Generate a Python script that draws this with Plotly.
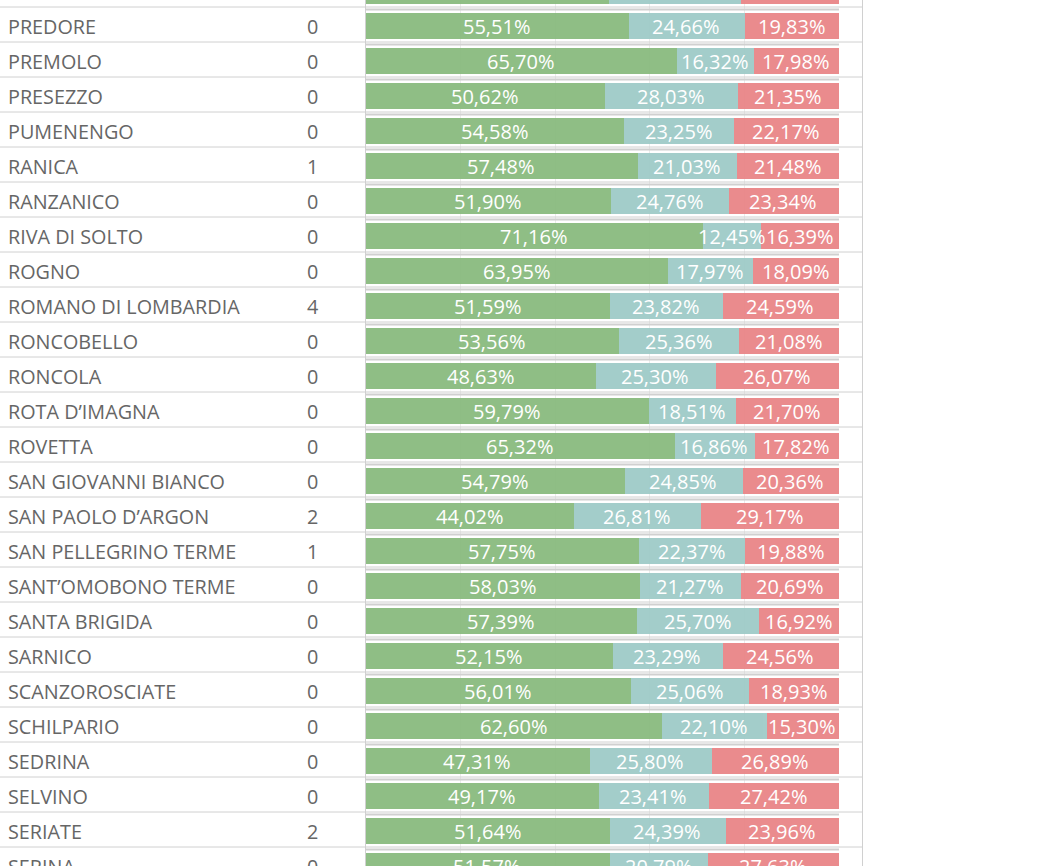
import plotly.graph_objects as go

comuni = ["PRADALUNGA", "PREDORE", "PREMOLO", "PRESEZZO", "PUMENENGO", "RANICA", "RANZANICO",
          "RIVA DI SOLTO", "ROGNO", "ROMANO DI LOMBARDIA", "RONCOBELLO", "RONCOLA",
          "ROTA D’IMAGNA", "ROVETTA", "SAN GIOVANNI BIANCO", "SAN PAOLO D’ARGON",
          "SAN PELLEGRINO TERME", "SANT’OMOBONO TERME", "SANTA BRIGIDA", "SARNICO",
          "SCANZOROSCIATE", "SCHILPARIO", "SEDRINA", "SELVINO", "SERIATE", "SERINA"]
conteggio = [0, 0, 0, 0, 0, 1, 0, 0, 0, 4, 0, 0, 0, 0, 0, 2, 1, 0, 0, 0, 0, 0, 0, 0, 2, 0]
verde = [51.40, 55.51, 65.70, 50.62, 54.58, 57.48, 51.90, 71.16, 63.95, 51.59, 53.56, 48.63,
         59.79, 65.32, 54.79, 44.02, 57.75, 58.03, 57.39, 52.15, 56.01, 62.60, 47.31, 49.17,
         51.64, 51.57]
azzurro = [27.90, 24.66, 16.32, 28.03, 23.25, 21.03, 24.76, 12.45, 17.97, 23.82, 25.36, 25.30,
           18.51, 16.86, 24.85, 26.81, 22.37, 21.27, 25.70, 23.29, 25.06, 22.10, 25.80, 23.41,
           24.39, 20.79]
rosso = [20.70, 19.83, 17.98, 21.35, 22.17, 21.48, 23.34, 16.39, 18.09, 24.59, 21.08, 26.07,
         21.70, 17.82, 20.36, 29.17, 19.88, 20.69, 16.92, 24.56, 18.93, 15.30, 26.89, 27.42,
         23.96, 27.63]

W, H = 1053, 866
ROW = 35.0
C_GREEN = "#8abb7f"
C_TEAL = "#9fcbc8"
C_RED = "#e98587"
C_LINE = "#d0d0d0"
FONT = "Open Sans"

n = len(comuni)
rows = list(range(n))

fig = go.Figure()
series = [(verde, C_GREEN), (azzurro, C_TEAL), (rosso, C_RED)]
bases = [0.0] * n
annotations = []
for vals, col in series:
    fig.add_trace(go.Bar(
        y=rows, x=vals, base=bases[:], orientation="h",
        marker=dict(color=col, line=dict(width=0)), opacity=0.95,
        width=0.751, offset=-0.337, hoverinfo="skip", showlegend=False,
    ))
    for i in range(n):
        annotations.append(dict(
            x=bases[i] + vals[i] / 2, y=i, xref="x", yref="y",
            text=f"{vals[i]:.2f}%".replace(".", ","), showarrow=False,
            font=dict(family=FONT, size=20, color="white"),
            xanchor="center", yanchor="middle", yshift=-1.5, xshift=-1,
        ))
    bases = [bases[i] + vals[i] for i in range(n)]

for i in range(n):
    annotations.append(dict(
        x=6 / W, y=i, xref="paper", yref="y", text=comuni[i], showarrow=False,
        font=dict(family=FONT, size=19.8, color="#666666"),
        xanchor="left", yanchor="middle", yshift=-1.5,
    ))
    annotations.append(dict(
        x=312 / W, y=i, xref="paper", yref="y", text=str(conteggio[i]), showarrow=False,
        font=dict(family=FONT, size=19.8, color="#666666"),
        xanchor="center", yanchor="middle", yshift=-1.5,
    ))

shapes = []
for i in range(n + 1):
    b = i - 0.5
    shapes.append(dict(type="line", xref="paper", yref="y", x0=0, x1=862 / W, y0=b, y1=b,
                       line=dict(color=C_LINE, width=1)))
    shapes.append(dict(type="line", xref="x", yref="y", x0=0, x1=100,
                       y0=b + 2.5 / ROW, y1=b + 2.5 / ROW,
                       line=dict(color=C_LINE, width=2)))
shapes.append(dict(type="line", xref="paper", yref="paper", x0=365.5 / W, x1=365.5 / W, y0=0, y1=1,
                   line=dict(color=C_LINE, width=1)))
shapes.append(dict(type="line", xref="paper", yref="paper", x0=862.5 / W, x1=862.5 / W, y0=0, y1=1,
                   line=dict(color=C_LINE, width=1)))

y_top = 1 - 24.5 / ROW
y_bot = 1 + (H - 24.5) / ROW

fig.update_layout(
    width=W, height=H, margin=dict(l=0, r=0, t=0, b=0),
    paper_bgcolor="white", plot_bgcolor="white",
    barmode="overlay", bargap=0,
    xaxis=dict(domain=[366 / W, 839 / W], range=[0, 100], tickvals=[20, 40, 60, 80],
               showticklabels=False, showgrid=True, gridcolor="#ebebeb", gridwidth=1,
               zeroline=False, showline=False, fixedrange=True),
    yaxis=dict(domain=[0, 1], range=[y_bot, y_top], showticklabels=False, showgrid=False,
               zeroline=False, showline=False, fixedrange=True),
    annotations=annotations, shapes=shapes,
    font=dict(family=FONT),
)

fig.write_html("out.html", config={"displayModeBar": False, "staticPlot": True},
               post_script="document.body.style.margin='0';document.body.style.overflow='hidden';")
